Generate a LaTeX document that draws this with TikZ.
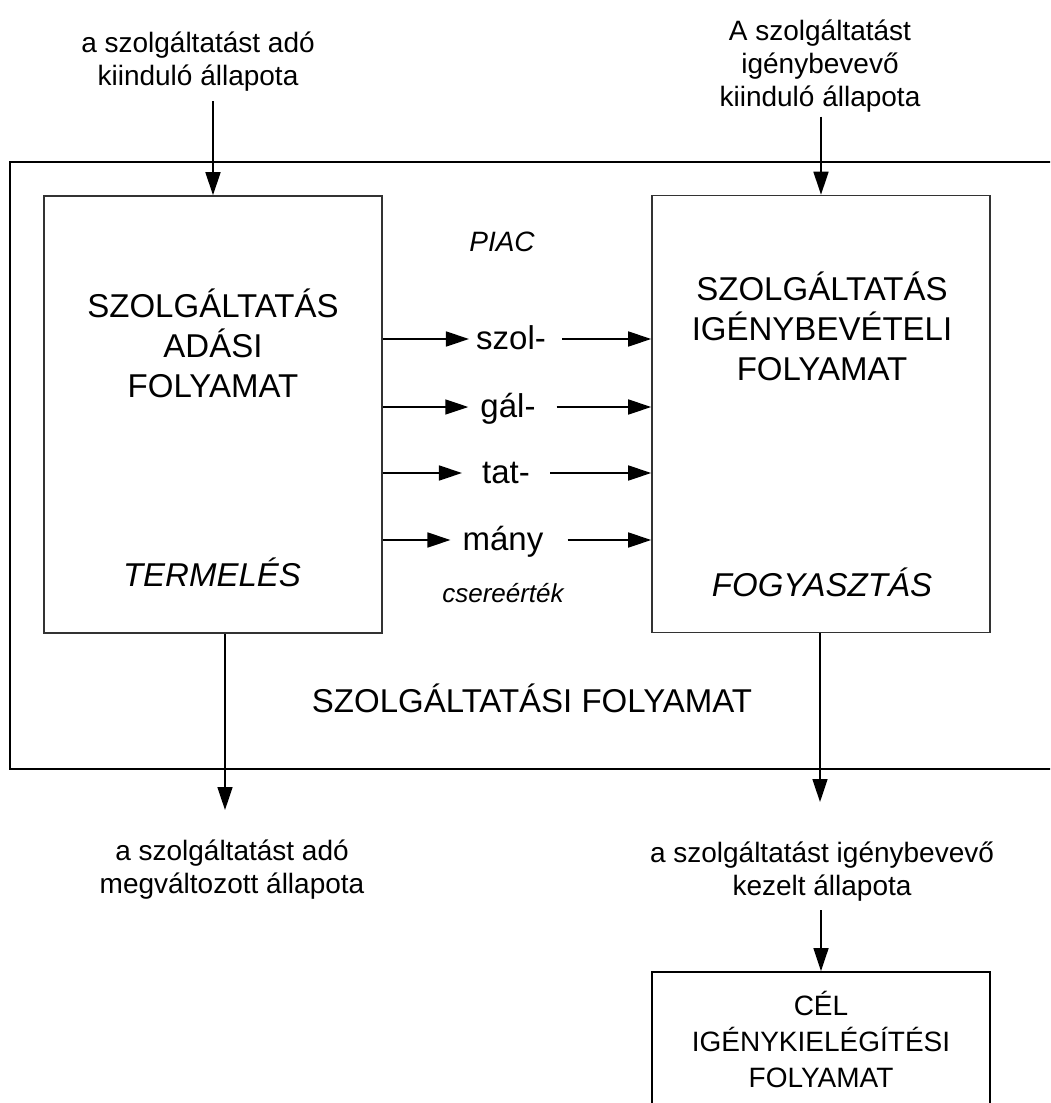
\documentclass[tikz,border=0pt]{standalone}
\usepackage{fontspec}
\setmainfont{Liberation Sans}
\usetikzlibrary{arrows.meta}

\begin{document}
\begin{tikzpicture}[x=1pt,y=-1pt,
        box/.style={draw=black!80,line width=1.6pt,minimum width=338pt,minimum height=437pt,inner sep=0pt},
        big/.style={font=\fontsize{33}{40}\selectfont,align=center},
        ital/.style={font=\fontsize{33}{40}\selectfont\itshape},
        small/.style={font=\fontsize{28}{33}\selectfont,align=center},
        word/.style={font=\fontsize{33}{40}\selectfont,inner sep=0pt,text height=20pt,text depth=0pt},
        arr/.style={-{Triangle[length=23pt,width=15pt]},line width=1.6pt}]
        \clip (0,0) rectangle (1050,1103);
        \draw[line width=2.4pt] (1060,162) -- (10,162) -- (10,769) -- (1060,769);

        \node[box] at (213,414.5)(adas){};
        \node[box] at (821,414)(igeny){};
        \node[draw,line width=1.8pt,minimum width=338pt,minimum height=134pt,inner sep=0pt,
            font=\fontsize{28}{36}\selectfont,align=center] at (821,1039)(cel){CÉL\\IGÉNYKIELÉGÍTÉSI\\FOLYAMAT};

        \node[small] at (198,62)(startL){a szolgáltatást adó\\kiinduló állapota};
        \node[small] at (820,66)(startR){A szolgáltatást\\igénybevevő\\kiinduló állapota};
        \node[small] at (232,870)(endL){a szolgáltatást adó\\megváltozott állapota};
        \node[small] at (822,872)(endR){a szolgáltatást igénybevevő\\kezelt állapota};

        \node[big] at (213,343)(adasT){SZOLGÁLTATÁS\\ADÁSI\\FOLYAMAT};
        \node[big] at (822,326)(igenyT){SZOLGÁLTATÁS\\IGÉNYBEVÉTELI\\FOLYAMAT};
        \node[ital,anchor=base] at (212,586)(termeles){TERMELÉS};
        \node[ital,anchor=base] at (822,596)(fogyasztas){FOGYASZTÁS};
        \node[font=\fontsize{28}{33}\selectfont\itshape] at (502,242)(piac){PIAC};
        \node[font=\fontsize{26}{30}\selectfont\itshape] at (503,593)(csere){csereérték};
        \node[big,anchor=base] at (532,712)(folyamat){SZOLGÁLTATÁSI FOLYAMAT};

        \node[word] at (511,339)(szol){szol-};
        \node[word] at (508,407)(gal){gál-};
        \node[word] at (506,473)(tat){tat-};
        \node[word] at (503,540)(many){mány};

        \coordinate (outL) at (225,810);
        \coordinate (outR) at (820,802);

        \path[arr]
            (adas.east |- szol)edge[shorten >=7pt](szol.west)
            (szol.east)edge[shorten <=16pt](igeny.west |- szol)
            (adas.east |- gal)edge[shorten >=12pt](gal.west)
            (gal.east)edge[shorten <=21pt](igeny.west |- gal)
            (adas.east |- tat)edge[shorten >=20pt](tat.west)
            (tat.east)edge[shorten <=20pt](igeny.west |- tat)
            (adas.east |- many)edge[shorten >=12pt](many.west)
            (many.east)edge[shorten <=24pt](igeny.west |- many)
            (startL.south -| adas.north)edge[shorten <=6pt](adas.north)
            (startR.south -| igeny.north)edge[shorten <=1pt](igeny.north)
            (adas.south -| outL)edge(outL)
            (igeny.south -| outR)edge(outR)
            (endR.south -| cel.north)edge[shorten <=5pt](cel.north)
            ;
    \end{tikzpicture}
\end{document}
